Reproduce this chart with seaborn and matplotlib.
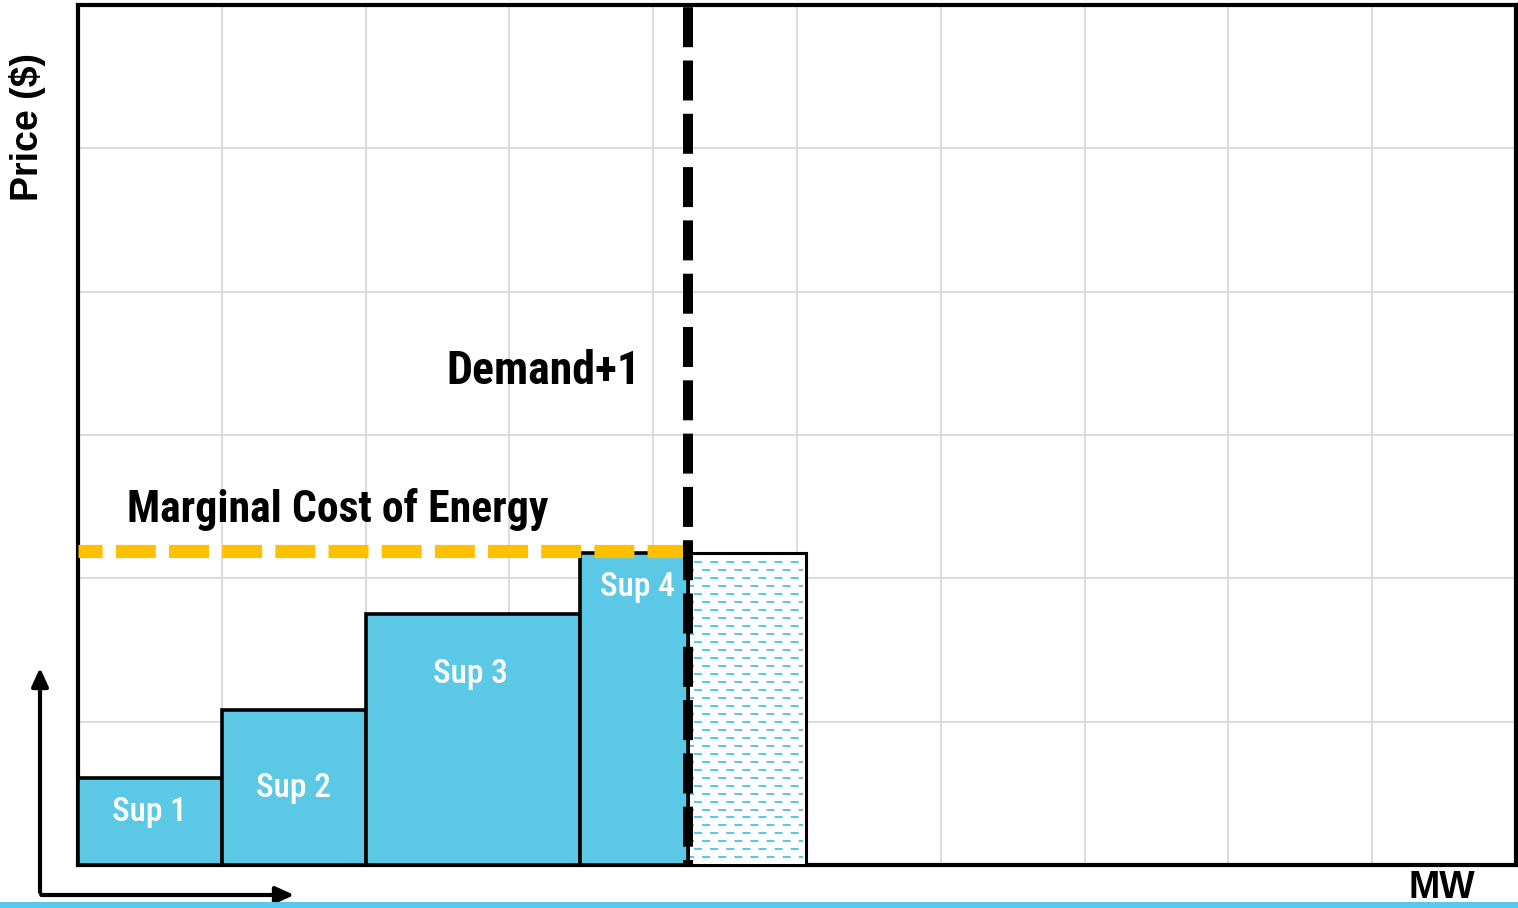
import numpy as np
import matplotlib
matplotlib.use("Agg")
import matplotlib.pyplot as plt
from matplotlib.patches import Rectangle, FancyArrowPatch
import seaborn as sns

# supply stack data (MW blocks and prices, grid units)
sup_labels = ["Sup 1", "Sup 2", "Sup 3", "Sup 4"]
sup_start = [0.0, 1.0, 2.0, 3.49]
sup_width = [1.0, 1.0, 1.49, 0.75]
sup_price = [0.61, 1.08, 1.75, 2.18]
label_pos_x = [0.5, 1.5, 2.73, 3.89]
label_pos_y = [0.37, 0.54, 1.33, 1.94]

extra_start = 4.24      # the +1 MW block
extra_width = 0.82
extra_price = 2.18

demand_x = 4.24
marginal_cost = 2.19

cyan = "#5BC9E6"
gold = "#FFC000"

sns.set_style("whitegrid", {"grid.color": "#D9D9D9"})
cond = ["Roboto Condensed", "IBM Plex Sans Condensed", "DejaVu Sans"]
plt.rcParams["font.family"] = cond
plt.rcParams["text.color"] = "black"

fig = plt.figure(figsize=(15.18, 9.08), dpi=100)
ax = fig.add_axes([78 / 1518, 43 / 908, 1438 / 1518, 860 / 908])

ax.set_xlim(0, 10)
ax.set_ylim(0, 6)
ax.set_xticks(np.arange(0, 11, 1))
ax.set_yticks(np.arange(0, 7, 1))
ax.tick_params(labelbottom=False, labelleft=False, length=0)
ax.grid(True, linewidth=1.3)
for s in ax.spines.values():
    s.set_color("black")
    s.set_linewidth(3)

# supply blocks
ax.bar(sup_start, sup_price, width=sup_width, align="edge", color=cyan,
       edgecolor="black", linewidth=2.6, zorder=3)
for lab, lx, ly in zip(sup_labels, label_pos_x, label_pos_y):
    ax.text(lx, ly, lab, color="white", fontsize=24, fontweight="medium",
            ha="center", va="center", zorder=6)

# extra block: white with staggered cyan dashes
ax.bar([extra_start], [extra_price], width=extra_width, align="edge",
       color="white", edgecolor="black", linewidth=2.2, zorder=3)
rows = extra_price - 0.063 - 0.0558 * np.arange(0, 40)
rows = rows[rows > 0.03]
x_a, x_b = extra_start + 0.014, extra_start + extra_width - 0.02
ax.hlines(rows[::2], x_a, x_b, colors=cyan, linewidth=1.45,
          linestyles=(6, (4, 4)), zorder=4)
ax.hlines(rows[1::2], x_a, x_b, colors=cyan, linewidth=1.45,
          linestyles=(2, (4, 4)), zorder=4)

# marginal cost and demand lines
ax.plot([0, demand_x], [marginal_cost, marginal_cost], color=gold,
        linewidth=9.5, linestyle=(1.2, (3.03, 1.0)), zorder=5,
        solid_capstyle="butt")
ax.axvline(demand_x, color="black", linewidth=7.2,
           linestyle=(3.5, (4, 1.33)), zorder=7)

ax.text(0.34, 2.48, "Marginal Cost of Energy", fontsize=31.5, fontweight="semibold",
        ha="left", va="center", zorder=6)
ax.text(3.91, 3.45, "Demand+1", fontsize=33, fontweight="semibold",
        ha="right", va="center", zorder=6)

# axis labels outside the box
fig.text(0.018, 0.86, "Price ($)", rotation=90, fontsize=27, fontweight="bold",
         family=["Liberation Sans", "DejaVu Sans"], ha="center", va="center")
fig.text(0.95, 0.022, "MW", fontsize=27, fontweight="bold",
         family=["Liberation Sans", "DejaVu Sans"], ha="center", va="center")

# small axis arrows in lower-left corner
x0, y0 = 40 / 1518, 1 - 895 / 908
fig.add_artist(FancyArrowPatch(
    (x0, y0), (x0, 1 - 665 / 908), transform=fig.transFigure,
    arrowstyle="-|>,head_length=11,head_width=5", color="black", linewidth=3))
fig.add_artist(FancyArrowPatch(
    (x0 - 0.001, y0), (297 / 1518, y0), transform=fig.transFigure,
    arrowstyle="-|>,head_length=11,head_width=5", color="black", linewidth=3))

# cyan strip at the bottom
fig.add_artist(Rectangle((0, 0), 1, 6 / 908, transform=fig.transFigure,
                         color=cyan, linewidth=0))

fig.savefig("out.png", dpi=100)
